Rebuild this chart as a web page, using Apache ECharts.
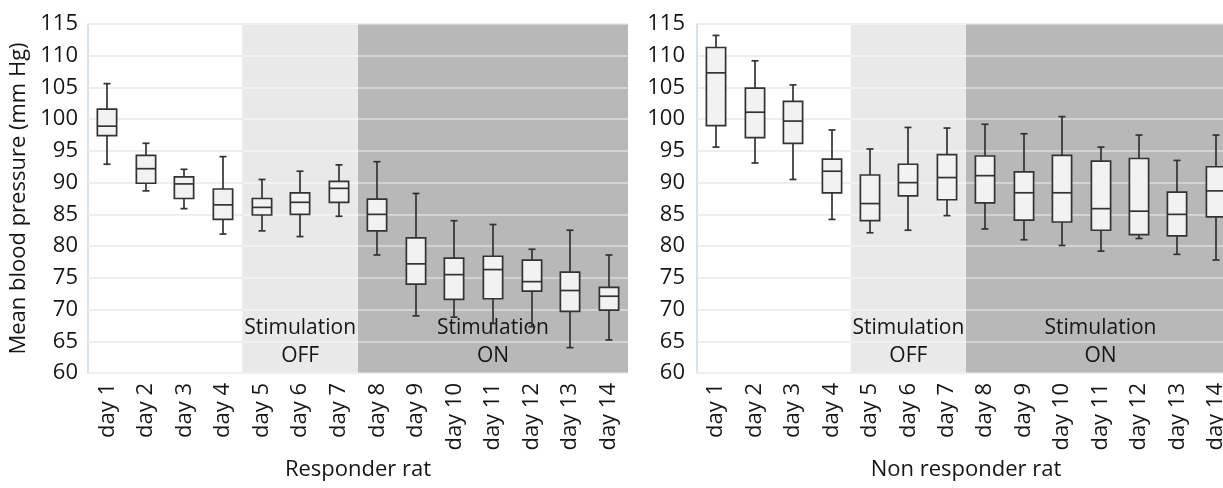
<!DOCTYPE html>
<html>
<head>
<meta charset="utf-8">
<script src="https://cdn.jsdelivr.net/npm/echarts@6/dist/echarts.min.js"></script>
<style>
html,body{margin:0;padding:0;background:#fff;overflow:hidden;}
#chart{width:1240px;height:488px;}
</style>
</head>
<body>
<div id="chart"></div>
<script>
// ---- data ----
const days = ['day 1','day 2','day 3','day 4','day 5','day 6','day 7','day 8','day 9','day 10','day 11','day 12','day 13','day 14'];
const yTicks = {min: 60, max: 115, interval: 5};

// Responder rat: whisker low, Q1, median, Q3, whisker high
const respLow  = [92.9, 88.7, 85.9, 81.9, 82.4, 81.5, 84.7, 78.6, 69.0, 68.8, 67.8, 67.3, 64.0, 65.2];
const respQ1   = [97.4, 89.9, 87.5, 84.2, 84.9, 85.0, 86.9, 82.4, 74.0, 71.6, 71.7, 72.9, 69.7, 69.9];
const respMed  = [98.9, 92.2, 89.8, 86.5, 86.1, 86.9, 89.1, 85.0, 77.2, 75.5, 76.3, 74.4, 73.0, 72.1];
const respQ3   = [101.6, 94.3, 90.9, 89.0, 87.5, 88.4, 90.2, 87.4, 81.3, 78.1, 78.4, 77.8, 75.9, 73.5];
const respHigh = [105.6, 96.2, 92.1, 94.1, 90.5, 91.8, 92.8, 93.3, 88.3, 84.0, 83.4, 79.5, 82.5, 78.6];

// Non responder rat
const nonLow  = [95.6, 93.1, 90.5, 84.2, 82.1, 82.5, 84.8, 82.7, 81.0, 80.1, 79.2, 81.2, 78.7, 77.8];
const nonQ1   = [99.0, 97.1, 96.2, 88.4, 84.0, 87.9, 87.3, 86.8, 84.1, 83.8, 82.5, 81.8, 81.6, 84.6];
const nonMed  = [107.3, 101.1, 99.7, 91.8, 86.7, 90.0, 90.8, 91.1, 88.4, 88.4, 85.9, 85.5, 85.0, 88.7];
const nonQ3   = [111.3, 104.9, 102.8, 93.7, 91.2, 92.9, 94.4, 94.2, 91.7, 94.3, 93.4, 93.8, 88.5, 92.5];
const nonHigh = [113.2, 109.2, 105.4, 98.3, 95.3, 98.7, 98.6, 99.2, 97.7, 100.4, 95.6, 97.5, 93.5, 97.5];

// stimulation periods (first day, last day, label)
const periodOff = ['day 5', 'day 7', 'Stimulation\nOFF'];
const periodOn  = ['day 8', 'day 14', 'Stimulation\nON'];
const axisTitles = ['Responder rat', 'Non responder rat'];
const yTitle = 'Mean blood pressure (mm Hg)';

// ---- chart ----
const FONT = 'Open Sans';
const TXT = '#161616';

function boxData(lo, q1, md, q3, hi) {
  return days.map((d, i) => [i, lo[i], q1[i], md[i], q3[i], hi[i]]);
}

function renderBox(params, api) {
  const x = api.value(0);
  const pLo = api.coord([x, api.value(1)]);
  const pQ1 = api.coord([x, api.value(2)]);
  const pMd = api.coord([x, api.value(3)]);
  const pQ3 = api.coord([x, api.value(4)]);
  const pHi = api.coord([x, api.value(5)]);
  const bw = api.size([1, 0])[0] * 0.5;
  const cw = 7;
  const cx = Math.round(pLo[0]);
  const st = {stroke: '#333333', lineWidth: 1.7, fill: null};
  return {
    type: 'group',
    children: [
      {type: 'line', shape: {x1: cx, y1: pHi[1], x2: cx, y2: pQ3[1]}, style: st},
      {type: 'line', shape: {x1: cx, y1: pQ1[1], x2: cx, y2: pLo[1]}, style: st},
      {type: 'line', shape: {x1: cx - cw/2, y1: pHi[1], x2: cx + cw/2, y2: pHi[1]}, style: st},
      {type: 'line', shape: {x1: cx - cw/2, y1: pLo[1], x2: cx + cw/2, y2: pLo[1]}, style: st},
      {type: 'rect', shape: {x: cx - bw/2, y: pQ3[1], width: bw, height: pQ1[1] - pQ3[1]},
        style: {fill: '#f2f2f2', stroke: '#333333', lineWidth: 1.7}},
      {type: 'line', shape: {x1: cx - bw/2, y1: pMd[1], x2: cx + bw/2, y2: pMd[1]}, style: st}
    ]
  };
}

function xAxisDef(gi, name) {
  return {
    type: 'category', gridIndex: gi, data: days, boundaryGap: true,
    axisLine: {show: false}, axisTick: {show: false},
    axisLabel: {rotate: 90, margin: 10, fontFamily: FONT, fontSize: 22, color: TXT},
    name: name, nameLocation: 'middle', nameGap: 86,
    nameTextStyle: {fontFamily: FONT, fontSize: 22, color: TXT},
    z: 0
  };
}

// hidden numeric x axis over the same grid, used to place the period shading on category bands
function bandAxisDef(gi) {
  return {
    type: 'value', gridIndex: gi, min: 0, max: days.length, show: false,
    splitLine: {show: false}
  };
}

function yAxisDef(gi, withName) {
  const a = {
    type: 'value', gridIndex: gi, min: yTicks.min, max: yTicks.max, interval: yTicks.interval,
    axisLine: {show: true, lineStyle: {color: '#cdd9e6', width: 1.5}},
    axisTick: {show: false},
    axisLabel: {margin: gi === 0 ? 10 : 12, fontFamily: FONT, fontSize: 22, color: TXT},
    splitLine: {show: true, lineStyle: {color: '#e3e3e3', width: 2}},
    z: 0
  };
  if (withName) {
    a.name = yTitle; a.nameLocation = 'middle'; a.nameGap = 58; a.nameRotate = 90;
    a.nameTextStyle = {fontFamily: FONT, fontSize: 22, color: TXT};
  }
  return a;
}

function overlayY(gi) {
  return {
    type: 'value', gridIndex: gi, min: yTicks.min, max: yTicks.max, interval: yTicks.interval,
    axisLine: {show: false}, axisTick: {show: false}, axisLabel: {show: false},
    splitLine: {show: true, lineStyle: {color: 'rgba(255,255,255,0.4)', width: 2}},
    z: 2
  };
}

function shadeSeries(gi) {
  const lbl = {
    show: true, position: 'insideBottom', distance: 3,
    fontFamily: FONT, fontSize: 21, lineHeight: 28, color: TXT
  };
  const band = p => [days.indexOf(p[0]), days.indexOf(p[1]) + 1];
  const off = band(periodOff), on = band(periodOn);
  return {
    type: 'line', xAxisIndex: 2 + gi, yAxisIndex: gi * 2, data: [], z: 1, silent: true,
    markArea: {
      silent: true,
      data: [
        [{xAxis: off[0], yAxis: yTicks.min, itemStyle: {color: '#e9e9e9'}, label: Object.assign({}, lbl, {formatter: periodOff[2]})},
         {xAxis: off[1], yAxis: yTicks.max}],
        [{xAxis: on[0], yAxis: yTicks.min, itemStyle: {color: '#b8b8b8'}, label: Object.assign({}, lbl, {formatter: periodOn[2]})},
         {xAxis: on[1], yAxis: yTicks.max}]
      ]
    }
  };
}

function boxSeries(gi, data) {
  return {
    type: 'custom', xAxisIndex: gi, yAxisIndex: gi * 2, renderItem: renderBox,
    data: data, z: 3, silent: true
  };
}

const chart = echarts.init(document.getElementById('chart'), null, {renderer: 'canvas'});
chart.setOption({
  animation: false,
  backgroundColor: '#ffffff',
  grid: [
    {left: 88, top: 24, width: 540, height: 349, outerBoundsMode: 'none'},
    {left: 697, top: 24, width: 538, height: 349, outerBoundsMode: 'none'}
  ],
  xAxis: [xAxisDef(0, axisTitles[0]), xAxisDef(1, axisTitles[1]), bandAxisDef(0), bandAxisDef(1)],
  yAxis: [yAxisDef(0, true), overlayY(0), yAxisDef(1, false), overlayY(1)],
  series: [
    shadeSeries(0),
    shadeSeries(1),
    boxSeries(0, boxData(respLow, respQ1, respMed, respQ3, respHigh)),
    boxSeries(1, boxData(nonLow, nonQ1, nonMed, nonQ3, nonHigh))
  ]
});
</script>
</body>
</html>
